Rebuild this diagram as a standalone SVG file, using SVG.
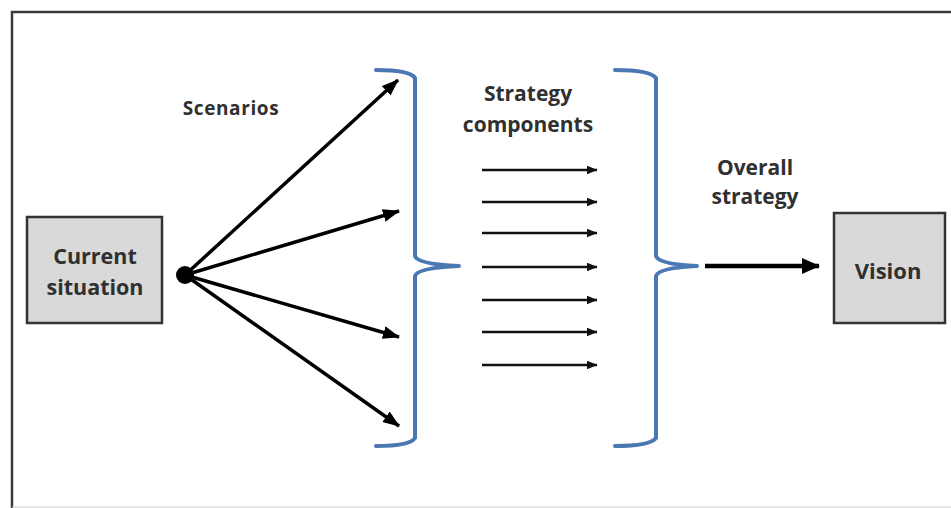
<svg xmlns="http://www.w3.org/2000/svg" width="951" height="508" viewBox="0 0 951 508">
<style>
.box{fill:#d9d9d9;stroke:#333;stroke-width:2.5}
.lbl{font-family:"Open Sans","Liberation Sans",sans-serif;font-weight:700;fill:#303030;text-anchor:middle}
.sc{stroke:#000;stroke-width:3.5;fill:none}
.st{stroke:#111;stroke-width:2.6;fill:none}
.br{stroke:#4a78b3;stroke-width:4;fill:none;stroke-linejoin:round;stroke-linecap:round}
</style>
<defs>
<marker id="ah" markerUnits="userSpaceOnUse" markerWidth="17" markerHeight="13" refX="16" refY="6.5" orient="auto"><path d="M0,0 L17,6.5 L0,13 Z" fill="#000"/></marker>
<marker id="ahs" markerUnits="userSpaceOnUse" markerWidth="11" markerHeight="9" refX="10.5" refY="4.5" orient="auto"><path d="M0,0 L11,4.5 L0,9 Z" fill="#111"/></marker>
<marker id="ahb" markerUnits="userSpaceOnUse" markerWidth="18" markerHeight="16" refX="17" refY="8" orient="auto"><path d="M0,0 L18,8 L0,16 Z" fill="#000"/></marker>
</defs>
<rect width="951" height="508" fill="#fff"/>
<g id="frame">
<path d="M12,508 L12,12 L951,12" stroke="#3a3a3a" stroke-width="2.5" fill="none"/>
<line x1="12" y1="507" x2="951" y2="507" stroke="#d0d0d0" stroke-width="1"/>
</g>
<g id="current">
<rect class="box" x="27" y="217" width="135" height="106"/>
<text class="lbl" x="95" y="264" font-size="21.5">Current</text>
<text class="lbl" x="95" y="295" font-size="21.5">situation</text>
</g>
<g id="vision">
<rect class="box" x="834" y="213" width="111" height="110"/>
<text class="lbl" x="888" y="279" font-size="22">Vision</text>
</g>
<g id="scenarios-label"><text class="lbl" x="231" y="115" font-size="19" letter-spacing="0.6">Scenarios</text></g>
<g id="strategy-label">
<text class="lbl" x="528" y="101" font-size="21">Strategy</text>
<text class="lbl" x="528" y="132" font-size="21">components</text>
</g>
<g id="overall-label">
<text class="lbl" x="755" y="175" font-size="21">Overall</text>
<text class="lbl" x="755" y="204" font-size="21">strategy</text>
</g>
<g id="brackets">
<path class="br" d="M376,70 Q410,70 415,78 L415,256 Q417,264 459,266 Q417,268 415,276 L415,438 Q410,446 376,446"/>
<path class="br" d="M615,70 Q650,70 656,78 L656,256 Q658,264 697,266 Q658,268 656,276 L656,438 Q650,446 615,446"/>
</g>
<g id="connectors">
<line class="sc" x1="185" y1="275" x2="398" y2="80" marker-end="url(#ah)"/>
<line class="sc" x1="185" y1="275" x2="399" y2="211" marker-end="url(#ah)"/>
<line class="sc" x1="185" y1="275" x2="399" y2="337" marker-end="url(#ah)"/>
<line class="sc" x1="185" y1="275" x2="399" y2="426" marker-end="url(#ah)"/>
<line class="st" x1="482" y1="170" x2="597" y2="170" marker-end="url(#ahs)"/>
<line class="st" x1="482" y1="202" x2="597" y2="202" marker-end="url(#ahs)"/>
<line class="st" x1="482" y1="233" x2="597" y2="233" marker-end="url(#ahs)"/>
<line class="st" x1="482" y1="267" x2="597" y2="267" marker-end="url(#ahs)"/>
<line class="st" x1="482" y1="300" x2="597" y2="300" marker-end="url(#ahs)"/>
<line class="st" x1="482" y1="332" x2="597" y2="332" marker-end="url(#ahs)"/>
<line class="st" x1="482" y1="365" x2="597" y2="365" marker-end="url(#ahs)"/>
<line x1="705" y1="266" x2="819" y2="266" stroke="#000" stroke-width="4.5" marker-end="url(#ahb)"/>
</g>
<g id="origin"><circle cx="185" cy="275" r="9" fill="#000"/></g>
</svg>
